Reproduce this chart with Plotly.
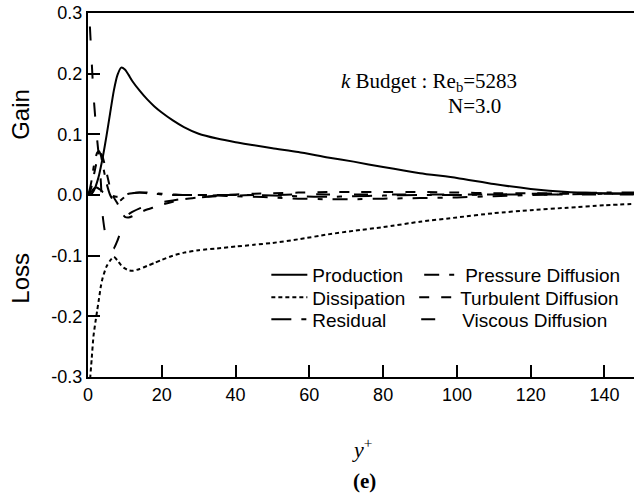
import plotly.graph_objects as go

# y+ positions (wall units)
yplus = [0, 0.5, 1, 1.5, 2, 2.5, 3, 3.5, 4, 5, 6, 7, 8, 9, 10, 11, 12, 14, 16, 18,
         20, 23, 26, 30, 35, 40, 45, 50, 57, 65, 72, 80, 90, 100, 110, 120, 130, 140, 150]

production = [0, 0, 0.002, 0.006, 0.013, 0.022, 0.033, 0.047, 0.062, 0.097, 0.135, 0.172,
              0.198, 0.210, 0.207, 0.198, 0.188, 0.172, 0.158, 0.146, 0.136, 0.123, 0.112,
              0.101, 0.093, 0.087, 0.082, 0.077, 0.071, 0.062, 0.055, 0.046, 0.036, 0.028,
              0.018, 0.010, 0.005, 0.003, 0.002]

dissipation = [-0.36, -0.31, -0.27, -0.232, -0.21, -0.19, -0.17, -0.15, -0.136, -0.118,
               -0.108, -0.102, -0.108, -0.116, -0.121, -0.124, -0.125, -0.122, -0.117,
               -0.112, -0.107, -0.100, -0.095, -0.091, -0.088, -0.085, -0.082, -0.079,
               -0.073, -0.065, -0.059, -0.053, -0.044, -0.037, -0.030, -0.025, -0.021,
               -0.017, -0.014]

residual = [0, 0.003, 0.006, 0.010, 0.012, 0.012, 0.010, 0.008, 0.005, 0.002, 0.0, -0.002,
            -0.003, -0.002, 0.0, 0.002, 0.003, 0.004, 0.003, 0.002, 0.001, 0.0, 0.0, 0.0,
            0.0, 0.0, 0.0, -0.001, -0.002, -0.003, -0.002, -0.001, 0.0, 0.0, 0.001, 0.002,
            0.003, 0.004, 0.004]

pressure_diff = [0, 0.010, 0.025, 0.045, 0.060, 0.070, 0.072, 0.065, 0.050, 0.020, 0.0,
                 -0.010, -0.012, -0.008, -0.003, 0.001, 0.003, 0.004, 0.004, 0.003, 0.002,
                 0.001, 0.0, 0.0, -0.001, -0.002, -0.003, -0.004, -0.006, -0.007, -0.007,
                 -0.006, -0.005, -0.004, -0.002, 0.0, 0.001, 0.002, 0.003]

turbulent_diff = [0, 0.005, 0.015, 0.030, 0.045, 0.058, 0.066, 0.068, 0.062, 0.038, 0.012,
                  -0.004, -0.014, -0.028, -0.036, -0.037, -0.035, -0.029, -0.024, -0.020,
                  -0.016, -0.011, -0.007, -0.004, -0.001, 0.001, 0.002, 0.003, 0.004, 0.005,
                  0.005, 0.005, 0.005, 0.004, 0.003, 0.003, 0.002, 0.002, 0.002]

viscous_diff = [0.34, 0.28, 0.22, 0.165, 0.125, 0.09, 0.06, 0.02, -0.035, -0.075, -0.09,
                -0.088, -0.075, -0.058, -0.040, -0.032, -0.028, -0.022, -0.018, -0.015,
                -0.012, -0.009, -0.006, -0.004, -0.002, -0.001, 0, 0, 0.001, 0.001, 0.001,
                0.001, 0.001, 0.001, 0.001, 0.001, 0.001, 0.001, 0.001]

x_ticks = [0, 20, 40, 60, 80, 100, 120, 140]
y_ticks = [-0.3, -0.2, -0.1, 0.0, 0.1, 0.2, 0.3]

W, H = 634, 501
ml, mr, mt, mb = 87.5, 0, 13, 124
pw = W - ml - mr
ph = H - mt - mb


def px_x(p):
    return (p - ml) / pw


def px_y(p):
    return (H - mb - p) / ph


# name, values, dash, legend id, legend left (px), legend row centre (px)
series = [
    ("Production", production, "solid", "legend", 266, 275),
    ("Dissipation", dissipation, "4px,3px", "legend2", 266, 297.5),
    ("Residual", residual, "20px,10px,5px,10px", "legend3", 266, 319.5),
    ("Pressure Diffusion", pressure_diff, "15px,10px,5px,10px", "legend4", 419, 275),
    ("Turbulent Diffusion", turbulent_diff, "10px,12px", "legend5", 414, 297.5),
    ("Viscous Diffusion", viscous_diff, "14px,24px", "legend6", 416, 319.5),
]

fig = go.Figure()
for name, vals, dash, leg, _, _ in series:
    fig.add_trace(go.Scatter(
        x=yplus, y=vals, mode="lines", name=name, legend=leg, showlegend=True,
        line=dict(color="black", width=2, dash=dash, shape="spline", smoothing=0.6),
    ))

legend_font = dict(family="Liberation Sans, Arial, sans-serif", size=19, color="black")
legends = {}
for name, vals, dash, leg, lx, ly in series:
    legends[leg] = dict(x=px_x(lx), y=px_y(ly), xanchor="left", yanchor="middle",
                        bgcolor="rgba(0,0,0,0)", font=legend_font, itemwidth=36,
                        borderwidth=0, visible=True)

fig.update_layout(
    width=W, height=H,
    showlegend=True,
    margin=dict(l=ml, r=mr, t=mt, b=mb, pad=0),
    paper_bgcolor="white", plot_bgcolor="white",
    font=dict(family="Liberation Sans, Arial, sans-serif", size=18, color="black"),
    xaxis=dict(range=[0, 148], tickvals=x_ticks, ticktext=[str(v) for v in x_ticks],
               ticks="inside", ticklen=12, tickwidth=2, tickcolor="black",
               showline=True, linecolor="black", linewidth=2, mirror=True,
               showgrid=False, zeroline=False,
               tickfont=dict(size=18, color="black")),
    yaxis=dict(range=[-0.3, 0.3], tickvals=y_ticks,
               ticktext=["%.1f" % v for v in y_ticks],
               ticks="inside", ticklen=12, tickwidth=2, tickcolor="black",
               showline=True, linecolor="black", linewidth=2,
               showgrid=False, zeroline=False,
               tickfont=dict(size=18, color="black")),
    **legends,
)

ann_serif = "Liberation Serif, Times New Roman, serif"
common = dict(showarrow=False, xanchor="center", yanchor="middle")
fig.add_annotation(text="Gain", x=px_x(20), y=0.133, xref="paper", yref="y",
                   textangle=-90, font=dict(size=24), **common)
fig.add_annotation(text="Loss", x=px_x(20), y=-0.137, xref="paper", yref="y",
                   textangle=-90, font=dict(size=24), **common)
fig.add_annotation(text="<i>k</i> Budget : Re<sub>b</sub>=5283", x=px_x(428.5), y=0.186,
                   xref="paper", yref="y",
                   font=dict(family=ann_serif, size=21, color="black"), **common)
fig.add_annotation(text="N=3.0", x=px_x(474.5), y=0.147,
                   xref="paper", yref="y",
                   font=dict(family=ann_serif, size=21, color="black"), **common)
fig.add_annotation(text="<i>y</i><sup>+</sup>", x=px_x(362), y=px_y(448),
                   xref="paper", yref="paper",
                   font=dict(family=ann_serif, size=22, color="black"), **common)
fig.add_annotation(text="<b>(e)</b>", x=px_x(364), y=px_y(481),
                   xref="paper", yref="paper",
                   font=dict(family=ann_serif, size=21, color="black"), **common)

fig.write_html("out.html", config={"displayModeBar": False},
               post_script="document.body.style.margin='0';")
